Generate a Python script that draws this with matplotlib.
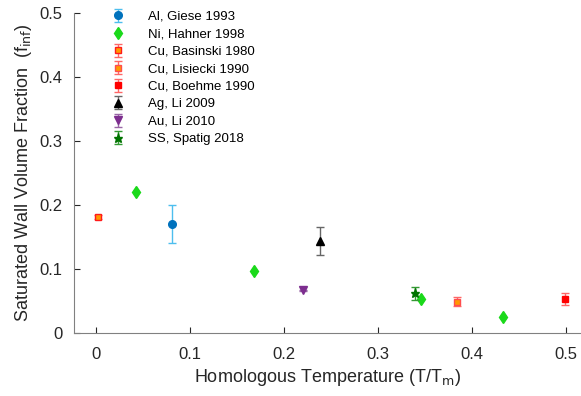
import matplotlib
matplotlib.use('Agg')
from matplotlib import pyplot as plt

plt.rcParams['font.family'] = ['Liberation Sans', 'DejaVu Sans']

# data (x = T/Tm, y = f_inf, err = half error bar)
labels = ['Al, Giese 1993', 'Ni, Hahner 1998', 'Cu, Basinski 1980', 'Cu, Lisiecki 1990',
          'Cu, Boehme 1990', 'Ag, Li 2009', 'Au, Li 2010', 'SS, Spatig 2018']
al_x, al_y, al_e = [0.081], [0.170], [0.030]
ni_x = [0.043, 0.168, 0.346, 0.433]
ni_y = [0.220, 0.097, 0.053, 0.025]
ni_e = None
cub_x, cub_y, cub_e = [0.002], [0.181], [0.003]
cul_x, cul_y, cul_e = [0.384], [0.049], [0.007]
cuh_x, cuh_y, cuh_e = [0.499], [0.053], [0.009]
ag_x, ag_y, ag_e = [0.238], [0.144], [0.022]
au_x, au_y, au_e = [0.220], [0.067], [0.001]
ss_x, ss_y, ss_e = [0.339], [0.062], [0.010]

series = [
    (al_x, al_y, al_e, 'o', (0, 0.447, 0.741), (0, 0.447, 0.741), (0.3, 0.745, 0.933), 5.5),
    (ni_x, ni_y, ni_e, 'd', (0.1, 0.85, 0.1), (0.1, 0.85, 0.1), (0.1, 0.85, 0.1), 6),
    (cub_x, cub_y, cub_e, 's', (1, 0.6, 0), (1, 0.1, 0.1), (1, 0.4, 0.4), 4.5),
    (cul_x, cul_y, cul_e, 's', (1, 0.6, 0), (1, 0.3, 0.3), (1, 0.4, 0.4), 4.5),
    (cuh_x, cuh_y, cuh_e, 's', (1, 0, 0), (1, 0, 0), (1, 0.4, 0.4), 5),
    (ag_x, ag_y, ag_e, '^', 'k', 'k', (0.4, 0.4, 0.4), 6),
    (au_x, au_y, au_e, 'v', (0.49, 0.18, 0.56), (0.49, 0.18, 0.56), (0.6, 0.4, 0.65), 6),
    (ss_x, ss_y, ss_e, '*', (0, 0.45, 0), (0, 0.45, 0), (0.2, 0.6, 0.2), 6.5),
]

fig = plt.figure(figsize=(5.81, 3.96), dpi=100)
ax = fig.add_axes([0.127, 0.159, 0.873, 0.808])

handles = []
for (x, y, e, m, fc, ec, errc, ms), lab in zip(series, labels):
    if e is None:
        h, = ax.plot(x, y, m, mfc=fc, mec=ec, ms=ms, label=lab)
    else:
        h = ax.errorbar(x, y, yerr=e, fmt=m, mfc=fc, mec=ec, ms=ms, ecolor=errc,
                        elinewidth=1, capsize=3, capthick=1, label=lab)
    handles.append(h)

ax.set_xlim(-0.0234, 0.516)
ax.set_ylim(0, 0.5)
ax.set_xticks([0, 0.1, 0.2, 0.3, 0.4, 0.5])
ax.set_xticklabels(['0', '0.1', '0.2', '0.3', '0.4', '0.5'])
ax.set_yticks([0, 0.1, 0.2, 0.3, 0.4, 0.5])
ax.set_yticklabels(['0', '0.1', '0.2', '0.3', '0.4', '0.5'])
ax.tick_params(direction='in', length=4, color=(0.15, 0.15, 0.15), labelsize=12,
               labelcolor=(0.15, 0.15, 0.15), pad=8)
ax.tick_params(axis='x', pad=10)
for s in ['top', 'right']:
    ax.spines[s].set_visible(False)
for s in ['left', 'bottom']:
    ax.spines[s].set_color((0.5, 0.5, 0.5))

ax.set_xlabel('Homologous Temperature (T/T$_{\\rm m}$)', fontsize=13, color=(0.15, 0.15, 0.15))
ax.set_ylabel('Saturated Wall Volume Fraction  (f$_{\\rm inf}$)', fontsize=13,
              color=(0.15, 0.15, 0.15))

ax.legend(handles, labels, loc='upper left', bbox_to_anchor=(0.038, 1.045), frameon=False,
          fontsize=9.5, handletextpad=1.25, labelspacing=0.4)

fig.savefig('out.png', dpi=100)
